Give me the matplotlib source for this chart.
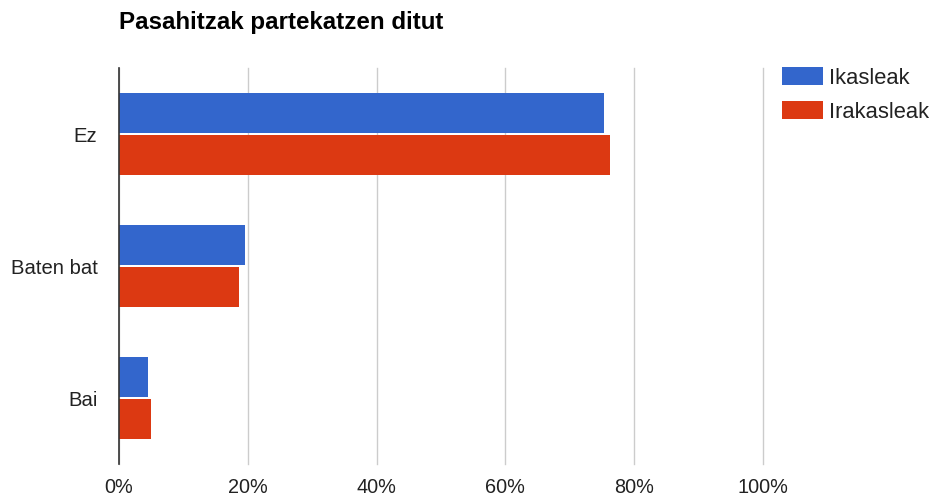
import matplotlib
matplotlib.use("Agg")
import matplotlib.pyplot as plt
import numpy as np

plt.rcParams['font.family'] = ['Liberation Sans', 'DejaVu Sans']

categories = ["Ez", "Baten bat", "Bai"]
series_names = ["Ikasleak", "Irakasleak"]
ikasleak = [75.3, 19.5, 4.5]
irakasleak = [76.2, 18.7, 4.9]
xticks = [0, 20, 40, 60, 80, 100]
xtick_labels = ["0%", "20%", "40%", "60%", "80%", "100%"]
colors = ["#3366CC", "#DC3912"]

fig = plt.figure(figsize=(9.31, 4.97), dpi=100)
ax = fig.add_axes([119/931, 1-464/497, (763-119)/931, (464-68)/497])

y = np.arange(len(categories))
h = 0.3
ax.barh(y - h/2 - 0.008, ikasleak, height=h, color=colors[0], label=series_names[0], zorder=3)
ax.barh(y + h/2 + 0.008, irakasleak, height=h, color=colors[1], label=series_names[1], zorder=3)

ax.set_xlim(0, 100)
ax.set_ylim(2.5, -0.5)
ax.set_yticks(y)
ax.set_yticklabels(categories, fontsize=14.6, color="#222222")
ax.set_xticks(xticks)
ax.set_xticklabels(xtick_labels, fontsize=14.3, color="#222222")
ax.tick_params(length=0)
ax.tick_params(axis='y', pad=15.5)
ax.tick_params(axis='x', pad=10)
ax.grid(axis='x', color="#cccccc", linewidth=1, zorder=0)
for gl in ax.get_xgridlines():
    gl.set_clip_on(False)
for s in ['top', 'right', 'bottom']:
    ax.spines[s].set_visible(False)
ax.spines['left'].set_color("#333333")
ax.spines['left'].set_linewidth(1.2)
ax.spines['left'].set_zorder(4)

fig.text(119/931, 1-22/497, "Pasahitzak partekatzen ditut", fontsize=17.4,
         fontweight='bold', color="#000000", ha='left', va='center')

leg = fig.legend(loc='upper left', bbox_to_anchor=(778/931, 1-63/497),
                 frameon=False, fontsize=15.8, handlelength=1.85, handleheight=0.88,
                 handletextpad=0.27, labelspacing=0.55, borderaxespad=0, borderpad=0.2)
for t in leg.get_texts():
    t.set_color("#222222")

fig.savefig("out.png", dpi=100)
